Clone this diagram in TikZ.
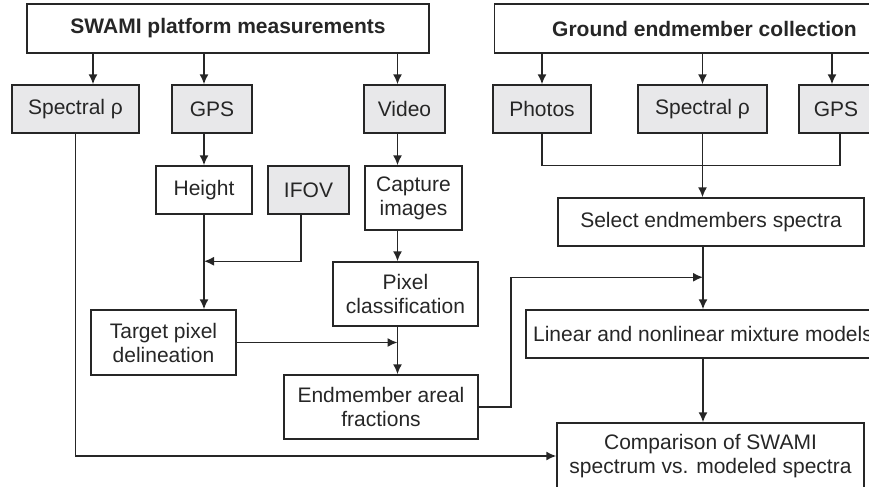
\documentclass[tikz,border=0pt]{standalone}
\usepackage{fontspec}
\setmainfont{Liberation Sans}
\usepackage{tikz}
\usetikzlibrary{positioning,arrows.meta}
\definecolor{ink}{HTML}{262626}
\definecolor{shade}{HTML}{E8E8EA}

\begin{document}
\begin{tikzpicture}[x=0.5pt,y=-0.5pt,font=\fontsize{10.5}{12}\selectfont,text=ink]
\tikzstyle{box}=[rectangle, draw=ink, line width=0.75pt, align=center, inner sep=0pt, minimum height=24pt]
\tikzstyle{inbox}=[box, fill=shade]
\tikzstyle{head}=[box, font=\fontsize{10.5}{12}\selectfont\bfseries, minimum height=24.5pt]
\tikzstyle{connect}=[-{Latex[length=5pt,width=4.5pt]}, line width=0.75pt, draw=ink]
\tikzstyle{wire}=[line width=0.75pt, draw=ink]
\useasboundingbox (0,0) rectangle (869,487);
\clip (0,0) rectangle (869,487);
  % headers
  \node[head, minimum width=201pt] (swami) at (228,28.5) {SWAMI platform measurements};
  \node[head, minimum width=210pt] (ground) [right=32pt of swami] {Ground endmember collection};
  % platform inputs
  \node[inbox, minimum width=63.5pt] (specA) at (75.5,109) {Spectral ρ};
  \node[inbox, minimum width=40pt] (gpsA) at (212,109) {GPS};
  \node[inbox, minimum width=40.5pt] (video) at (404.5,109) {Video};
  % ground inputs
  \node[inbox, minimum width=49pt] (photos) at (542,109) {Photos};
  \node[inbox, minimum width=64.5pt] (specB) at (702.5,109) {Spectral ρ};
  \node[inbox, minimum width=37pt] (gpsB) at (836,109) {GPS};
  % second row
  \node[box, minimum width=48pt] (height) at (204,190) {Height};
  \node[inbox, minimum width=40.5pt] (ifov) at (308.5,190) {IFOV};
  \node[box, minimum width=48.5pt, minimum height=32pt] (capture) at (413.5,198) {Capture\\images};
  \node[box, minimum width=153pt] (select) at (711,222) {Select endmembers spectra};
  % processing
  \node[box, minimum width=72.5pt, minimum height=32pt] (pixel) at (405.5,294) {Pixel\\classification};
  \node[box, minimum width=72.5pt, minimum height=32.5pt] (target) at (163.5,342.5) {Target pixel\\delineation};
  \node[box, minimum width=177pt] (linear) at (703,334) {Linear and nonlinear mixture models};
  \node[box, minimum width=97pt, minimum height=32pt] (endm) at (381,407) {Endmember areal\\fractions};
  \node[box, minimum width=153.5pt, minimum height=33pt] (comp) at (710.5,456) {Comparison of SWAMI\\spectrum vs. modeled spectra};
  % columns
  \coordinate (colC) at (397.5,0);
  \path (swami.south -| colC) edge [connect] (video.north -| colC)
        ([xshift=8.75pt]specA.north |- swami.south) edge [connect] ([xshift=8.75pt]specA.north)
        (swami.south -| height) edge [connect] (gpsA.north -| height)
        (ground.south -| photos) edge [connect] (photos.north)
        (ground.south -| specB) edge [connect] (specB.north)
        ([xshift=-2pt]gpsB.north |- ground.south) edge [connect] ([xshift=-2pt]gpsB.north)
        (gpsA.south -| height) edge [connect] (height.north)
        (height.south) edge [connect] (target.north -| height)
        (video.south -| colC) edge [connect] (capture.north -| colC)
        (capture.south -| colC) edge [connect] (pixel.north -| colC)
        (pixel.south -| colC) edge [connect] (endm.north -| colC)
        (target.east) edge [connect] (target.east -| colC)
        (specB.south) edge [connect] (select.north -| specB)
        (select.south -| linear) edge [connect] (linear.north)
        (linear.south) edge [connect] (comp.north -| linear);
  \draw[wire] (photos.south) |- ([yshift=16pt]select.north) -| ([xshift=2pt]gpsB.south);
  \draw[connect] ([xshift=-3.75pt]ifov.south) |- (height |- pixel.north);
  \draw[connect] (endm.east) -- ++(32,0) |- ([yshift=16pt]linear.north);
  \draw[connect] (specA.south) |- (comp.west);
\end{tikzpicture}
\end{document}
